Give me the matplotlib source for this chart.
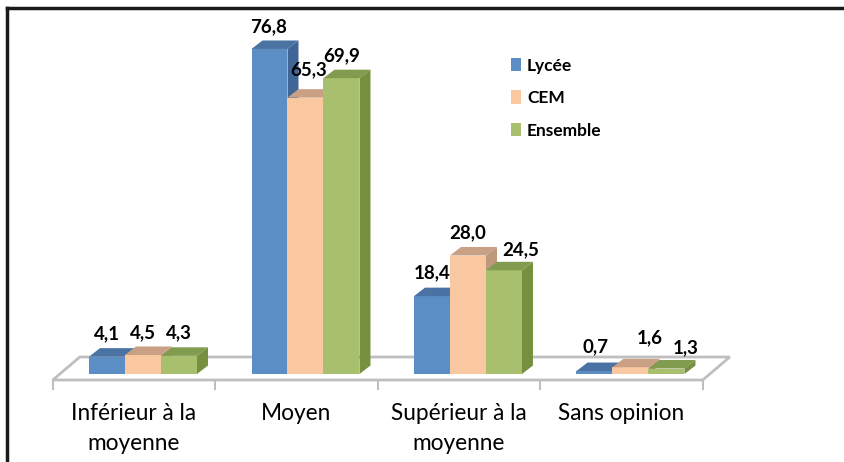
import matplotlib
matplotlib.use("Agg")
import matplotlib.pyplot as plt
from matplotlib.patches import Polygon, Patch
from matplotlib.lines import Line2D
import numpy as np

# ---- data ----
categories = ["Inférieur à la\nmoyenne", "Moyen", "Supérieur à la\nmoyenne", "Sans opinion"]
series_names = ["Lycée", "CEM", "Ensemble"]
lycee = [4.1, 76.8, 18.4, 0.7]
cem = [4.5, 65.3, 28.0, 1.6]
ensemble = [4.3, 69.9, 24.5, 1.3]
value_labels = [["4,1", "76,8", "18,4", "0,7"],
                ["4,5", "65,3", "28,0", "1,6"],
                ["4,3", "69,9", "24,5", "1,3"]]

# ---- style ----
front_cols = ["#5B8EC4", "#F9C8A0", "#A8C06E"]
top_cols = ["#4A73A3", "#C9A083", "#819B4F"]
side_cols = ["#3F6696", "#BE987A", "#76903F"]
FONT = "Lato"
# label nudges in pixels (dx, dy above front top) per series/category
label_nudge = [[(0, 23), (-1, 22), (0, 23), (1, 24)],
               [(0, 22), (3, 28), (0, 23), (19, 29)],
               [(0, 23), (0, 22), (17, 21), (19, 21)]]

W, H, DPI = 844, 462, 100
fig = plt.figure(figsize=(W / DPI, H / DPI), dpi=DPI)
ax = fig.add_axes([0, 0, 1, 1])
ax.set_xlim(-0.88, 4.314)
ax.set_ylim(-20.79, 88.37)
ax.axis("off")

def px_to_data(dx, dy):
    p0 = ax.transData.transform((0, 0))
    q = ax.transData.inverted().transform((p0[0] + dx, p0[1] + dy))
    return q[0], q[1]

x = np.arange(len(categories))
bw = 0.2215
ddx, ddy = px_to_data(11, 8.5)

# floor
fx0, fy0 = px_to_data(-9, -6)
bx0, by0 = px_to_data(18, 17)
left_b, right_b = x[0] - 0.5, x[-1] + 0.5
floor = Polygon([(left_b + fx0, fy0), (right_b + fx0, fy0),
                 (right_b + bx0, by0), (left_b + bx0, by0)],
                closed=True, facecolor="white", edgecolor="#BFBFBF", lw=2, zorder=1)
ax.add_patch(floor)
tdx, tdy = px_to_data(0, -9)
for b in np.arange(len(categories) + 1) - 0.5:
    ax.plot([b + fx0, b + fx0], [fy0, fy0 + tdy], color="#BFBFBF", lw=1.5, zorder=1)

# bars
series = [lycee, cem, ensemble]
z = 2
for ci in range(len(categories)):
    for si, vals in enumerate(series):
        v = vals[ci]
        x0 = x[ci] + (si - 1) * bw - bw / 2
        x1 = x0 + bw
        ax.bar([x0 + bw / 2], [v], width=bw, color=front_cols[si], zorder=z, linewidth=0)
        ax.add_patch(Polygon([(x0, v), (x1, v), (x1 + ddx, v + ddy), (x0 + ddx, v + ddy)],
                             closed=True, facecolor=top_cols[si], lw=0, zorder=z))
        ax.add_patch(Polygon([(x1, 0), (x1 + ddx, ddy), (x1 + ddx, v + ddy), (x1, v)],
                             closed=True, facecolor=side_cols[si], lw=0, zorder=z))
        z += 1
        ndx, ndy = label_nudge[si][ci]
        ax.annotate(value_labels[si][ci], xy=(x0 + bw / 2, v), xytext=(ndx, ndy),
                    textcoords="offset pixels", ha="center", va="center",
                    fontsize=13.5, fontweight="bold", family=FONT, color="black", zorder=100)

# category labels (top-aligned like Excel)
for ci, lab in enumerate(categories):
    ax.annotate(lab, xy=(x[ci] + fx0, 0), xytext=(0, -29), textcoords="offset pixels",
                ha="center", va="top", fontsize=16.3, family=FONT, color="black",
                linespacing=1.52)

# legend
handles = [Patch(facecolor=c, edgecolor="none") for c in front_cols]
leg = fig.legend(handles, series_names, loc="upper left", bbox_to_anchor=(495 / W, 1 - 42 / H),
                 frameon=False, handlelength=0.6, handleheight=0.8, handletextpad=0.35,
                 labelspacing=0.95, prop={"family": FONT, "weight": "bold", "size": 12.5})

# frame lines (top and left)
fig.add_artist(Line2D([7 / W, 1], [1 - 8 / H, 1 - 8 / H], transform=fig.transFigure,
                      color="#1A1A1A", lw=2.5))
fig.add_artist(Line2D([7 / W, 7 / W], [0, 1 - 8 / H], transform=fig.transFigure,
                      color="#1A1A1A", lw=2.5))

fig.savefig("out.png", dpi=DPI)
